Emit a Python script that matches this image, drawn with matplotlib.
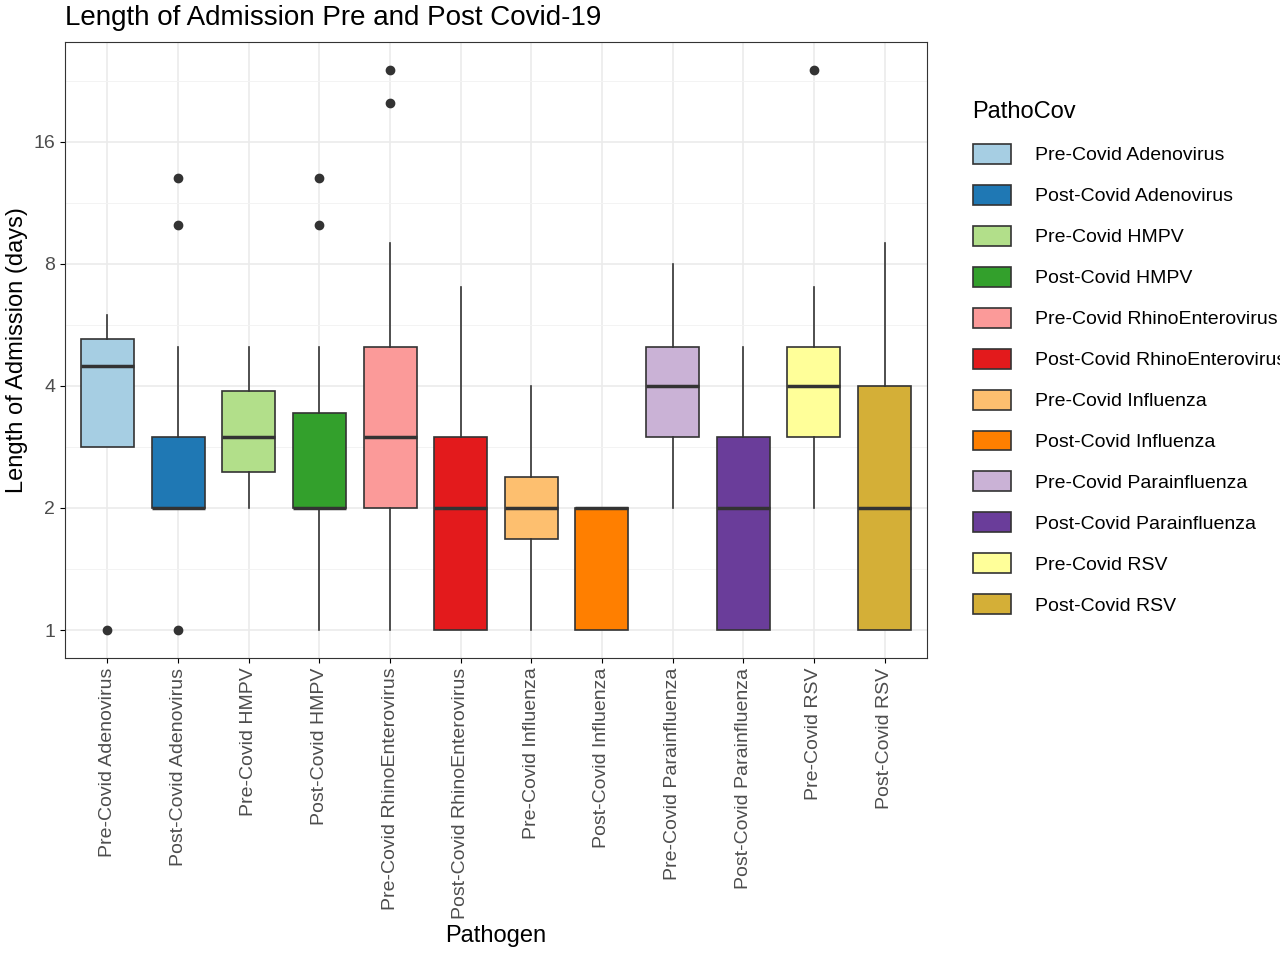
import numpy as np
import matplotlib.pyplot as plt
from matplotlib.patches import Patch

groups = ["Pre-Covid Adenovirus", "Post-Covid Adenovirus", "Pre-Covid HMPV", "Post-Covid HMPV",
          "Pre-Covid RhinoEnterovirus", "Post-Covid RhinoEnterovirus", "Pre-Covid Influenza",
          "Post-Covid Influenza", "Pre-Covid Parainfluenza", "Post-Covid Parainfluenza",
          "Pre-Covid RSV", "Post-Covid RSV"]
colors = ["#a6cee3", "#1f78b4", "#b2df8a", "#33a02c", "#fb9a99", "#e31a1c",
          "#fdbf6f", "#ff7f00", "#cab2d6", "#6a3d9a", "#ffff99", "#d4af37"]
whislo = [2.83, 2, 2, 1, 1, 1, 1, 1, 2, 1, 2, 1]
q1 = [2.83, 2, 2.45, 2, 2, 1, 1.68, 1, 3, 1, 3, 1]
med = [4.48, 2, 3, 2, 3, 2, 2, 2, 4, 2, 4, 2]
q3 = [5.22, 3, 3.89, 3.43, 5, 3, 2.38, 2, 5, 3, 5, 4]
whishi = [6, 5, 5, 5, 9, 7, 4, 2, 8, 5, 7, 9]
fliers = [[1], [13, 10, 1], [], [13, 10], [24, 20], [], [], [], [], [], [24], []]

plt.rcParams['font.family'] = ['Arial', 'Liberation Sans', 'DejaVu Sans']
fig = plt.figure(figsize=(12.8, 9.64), dpi=100)
ax = fig.add_axes([65/1280, 1-658/964, (927-65)/1280, (658-42)/964])

stats = [dict(whislo=whislo[i], q1=q1[i], med=med[i], q3=q3[i], whishi=whishi[i],
              fliers=fliers[i]) for i in range(len(groups))]
pos = np.arange(1, len(groups) + 1)
bp = ax.bxp(stats, positions=pos, widths=0.75, patch_artist=True, showcaps=False,
            boxprops=dict(edgecolor='#333333', linewidth=1.2),
            medianprops=dict(color='#333333', linewidth=2.5),
            whiskerprops=dict(color='#333333', linewidth=1.2),
            flierprops=dict(marker='o', markerfacecolor='#333333', markeredgecolor='#333333',
                            markersize=6))
for b, c in zip(bp['boxes'], colors):
    b.set_facecolor(c)

ax.set_yscale('log', base=2)
ax.set_yticks([1, 2, 4, 8, 16])
ax.set_yticklabels(['1', '2', '4', '8', '16'])
ax.set_yticks([2**(k + 0.5) for k in range(-1, 5)], minor=True)
ax.yaxis.set_minor_formatter(plt.NullFormatter())
ax.set_ylim(0.853, 28.2)
ax.set_xlim(0.4, 12.6)
ax.set_xticks(pos)
ax.set_xticklabels(groups, rotation=90, fontsize=14, color='#4d4d4d')
ax.tick_params(axis='y', labelsize=14, labelcolor='#4d4d4d')
ax.tick_params(which='minor', length=0)
ax.grid(True, which='major', color='#ebebeb', linewidth=1.2)
ax.grid(True, which='minor', color='#f3f3f3', linewidth=0.7)
ax.set_axisbelow(True)
for s in ax.spines.values():
    s.set_color('#333333')
ax.set_xlabel('Pathogen', fontsize=17)
ax.set_ylabel('Length of Admission (days)', fontsize=17)
ax.set_title('Length of Admission Pre and Post Covid-19', fontsize=20, loc='left', x=0, pad=12)

handles = [Patch(facecolor=c, edgecolor='#333333', linewidth=1.2) for c in colors]
leg = fig.legend(handles, groups, title='PathoCov', loc='upper left',
                 bbox_to_anchor=(955/1280, 1-84/964), frameon=False, fontsize=14,
                 title_fontsize=17, handlelength=2.0, handleheight=1.2, labelspacing=1.05,
                 handletextpad=1.2)
leg._legend_box.align = 'left'
fig.savefig('out.png', dpi=100)
